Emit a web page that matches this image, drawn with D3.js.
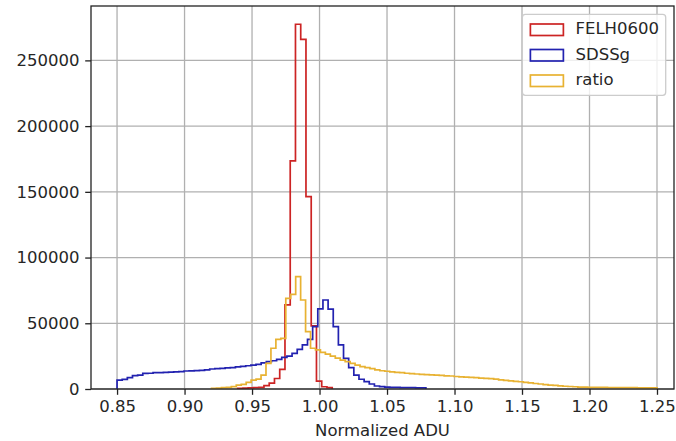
<!DOCTYPE html>
<html>
<head>
<meta charset="utf-8">
<script src="https://cdn.jsdelivr.net/npm/d3@7"></script>
<style>
  body { margin: 0; background: #fff; }
  svg text { font-family: "DejaVu Sans", sans-serif; fill: #262626; }
</style>
</head>
<body>
<svg id="chart" width="676" height="441"></svg>
<script>
// bin ranges and counts (bins evenly spaced inside each range)
const seriesNames = ['FELH0600', 'SDSSg', 'ratio']
const seriesColors = ['#cc2424', '#2222b0', '#e8b232']

const felhRange = [0.9394, 1.0094]
const felhCounts = [400, 700, 900, 1100, 1300, 2500, 4500, 8000, 15000, 64000,
  173500, 277500, 266000, 146300, 48000, 6000, 1700, 1000]

const sdssRange = [0.85, 1.0788]
const sdssCounts = [6800, 7300, 8600, 10100, 10500, 11900, 12000, 12400, 12500, 12600,
  12800, 13000, 13200, 13700, 13800, 14000, 14200, 14500, 15200, 15500,
  15700, 16000, 16300, 16800, 17200, 17700, 18200, 18800, 19800, 20800,
  21500, 22500, 24000, 25000, 27100, 30200, 33500, 37800, 47400, 61000,
  67700, 60800, 47500, 33500, 23300, 16200, 10600, 7400, 5600, 3800,
  2300, 1800, 1500, 1300, 1200, 1100, 1000, 1000, 900, 800]

const ratioRange = [0.92, 1.25]
const ratioCounts = [500, 700, 1000, 1300, 1800, 3000, 3500, 5000, 6800, 7500,
  10600, 19500, 31000, 37800, 38500, 69000, 72000, 85500, 67700, 43600,
  31000, 29700, 27800, 26600, 25000, 23500, 22000, 20800, 19500, 18200,
  17000, 16300, 15500, 14600, 13900, 13500, 13000, 12600, 12400, 12000,
  11700, 11400, 11200, 11000, 10800, 10600, 10300, 10000, 9900, 9500,
  9200, 9000, 8800, 8600, 8300, 8100, 7900, 7500, 7000, 6600,
  6200, 5800, 5500, 5000, 4600, 4200, 3800, 3400, 3000, 2700,
  2400, 2100, 1900, 1700, 1500, 1400, 1300, 1300, 1200, 1200,
  1100, 1100, 1100, 1000, 1000, 1000, 900, 900, 900, 800]

const xTicks = [0.85, 0.90, 0.95, 1.00, 1.05, 1.10, 1.15, 1.20, 1.25]
const yTicks = [0, 50000, 100000, 150000, 200000, 250000]
const xLabel = 'Normalized ADU'

const width = 676,
    height = 441,
    margin = { top: 6, right: 2, bottom: 52, left: 91 },
    fontSize = 16.5,
    tickLen = 5.8

const plotW = width - margin.left - margin.right
const plotH = height - margin.top - margin.bottom

const hists = [
  { name: seriesNames[0], color: seriesColors[0], range: felhRange, counts: felhCounts },
  { name: seriesNames[1], color: seriesColors[1], range: sdssRange, counts: sdssCounts },
  { name: seriesNames[2], color: seriesColors[2], range: ratioRange, counts: ratioCounts }
]

const yMax = d3.max(hists, h => d3.max(h.counts)) * 1.05

var x = d3.scaleLinear().domain([0.8307, 1.2626]).range([0, plotW])
var y = d3.scaleLinear().domain([0, yMax]).range([plotH, 0])

const svg = d3.select('#chart')
const g = svg.append('g').attr('transform', `translate(${margin.left},${margin.top})`)

// grid
g.append('g').selectAll('line.gx')
    .data(xTicks).enter().append('line')
    .attr('x1', d => x(d)).attr('x2', d => x(d))
    .attr('y1', 0).attr('y2', plotH)
    .attr('stroke', '#b0b0b0').attr('stroke-width', 1.3)
g.append('g').selectAll('line.gy')
    .data(yTicks).enter().append('line')
    .attr('y1', d => y(d)).attr('y2', d => y(d))
    .attr('x1', 0).attr('x2', plotW)
    .attr('stroke', '#b0b0b0').attr('stroke-width', 1.3)

// histograms as step outlines
svg.append('clipPath').attr('id', 'clip')
    .append('rect').attr('width', plotW).attr('height', plotH)

function stepPoints(h) {
  const n = h.counts.length
  const w = (h.range[1] - h.range[0]) / n
  const pts = [[h.range[0], 0]]
  h.counts.forEach((c, i) => {
    pts.push([h.range[0] + i * w, c], [h.range[0] + (i + 1) * w, c])
  })
  pts.push([h.range[1], 0])
  return pts
}

const line = d3.line().x(d => x(d[0])).y(d => y(d[1]))

g.append('g').attr('clip-path', 'url(#clip)')
    .selectAll('path')
    .data(hists).enter().append('path')
    .attr('d', h => line(stepPoints(h)))
    .attr('fill', 'none')
    .attr('stroke', h => h.color)
    .attr('stroke-width', 1.7)
    .attr('stroke-linejoin', 'miter')

// axes
const xAxis = g.append('g')
    .attr('transform', `translate(0,${plotH})`)
    .call(d3.axisBottom(x).tickValues(xTicks).tickFormat(d3.format('.2f'))
        .tickSize(tickLen).tickPadding(tickLen).tickSizeOuter(0))
const yAxis = g.append('g')
    .call(d3.axisLeft(y).tickValues(yTicks).tickFormat(d3.format('d'))
        .tickSize(tickLen).tickPadding(tickLen).tickSizeOuter(0))

;[xAxis, yAxis].forEach(a => {
  a.select('.domain').remove()
  a.selectAll('.tick line').attr('stroke', '#222').attr('stroke-width', 1.3)
  a.selectAll('.tick text').style('font-size', fontSize + 'px')
      .style('font-family', '"DejaVu Sans", sans-serif').attr('fill', '#262626')
})

// spines
g.append('rect')
    .attr('width', plotW).attr('height', plotH)
    .attr('fill', 'none').attr('stroke', '#222').attr('stroke-width', 1.3)

g.append('text')
    .attr('x', plotW / 2)
    .attr('y', plotH + 47)
    .attr('text-anchor', 'middle')
    .style('font-size', fontSize + 'px')
    .text(xLabel)

// legend
const legend = g.append('g')
const lx = plotW - 8.3, ly = 8.3
const rowH = 25.5
const labels = legend.selectAll('text')
    .data(hists).enter().append('text')
    .attr('y', (d, i) => ly + 6.7 + 13 + i * rowH)
    .style('font-size', fontSize + 'px')
    .text(d => d.name)
const textW = d3.max(labels.nodes(), n => n.getComputedTextLength())
const boxW = 6.7 + 33 + 13.4 + textW + 6.7
const boxH = 6.7 * 2 + 3 * 17 + 2 * 8.3
const bx = lx - boxW
labels.attr('x', bx + 6.7 + 33 + 13.4)
legend.insert('rect', 'text')
    .attr('x', bx).attr('y', ly)
    .attr('width', boxW).attr('height', boxH)
    .attr('rx', 3)
    .attr('fill', 'rgba(255,255,255,0.8)')
    .attr('stroke', '#cccccc').attr('stroke-width', 1.3)
legend.selectAll('rect.patch')
    .data(hists).enter().append('rect')
    .attr('class', 'patch')
    .attr('x', bx + 8)
    .attr('y', (d, i) => ly + 6.7 + 3 + i * rowH)
    .attr('width', 33).attr('height', 11.5)
    .attr('fill', 'none')
    .attr('stroke', d => d.color)
    .attr('stroke-width', 1.7)
</script>
</body>
</html>
